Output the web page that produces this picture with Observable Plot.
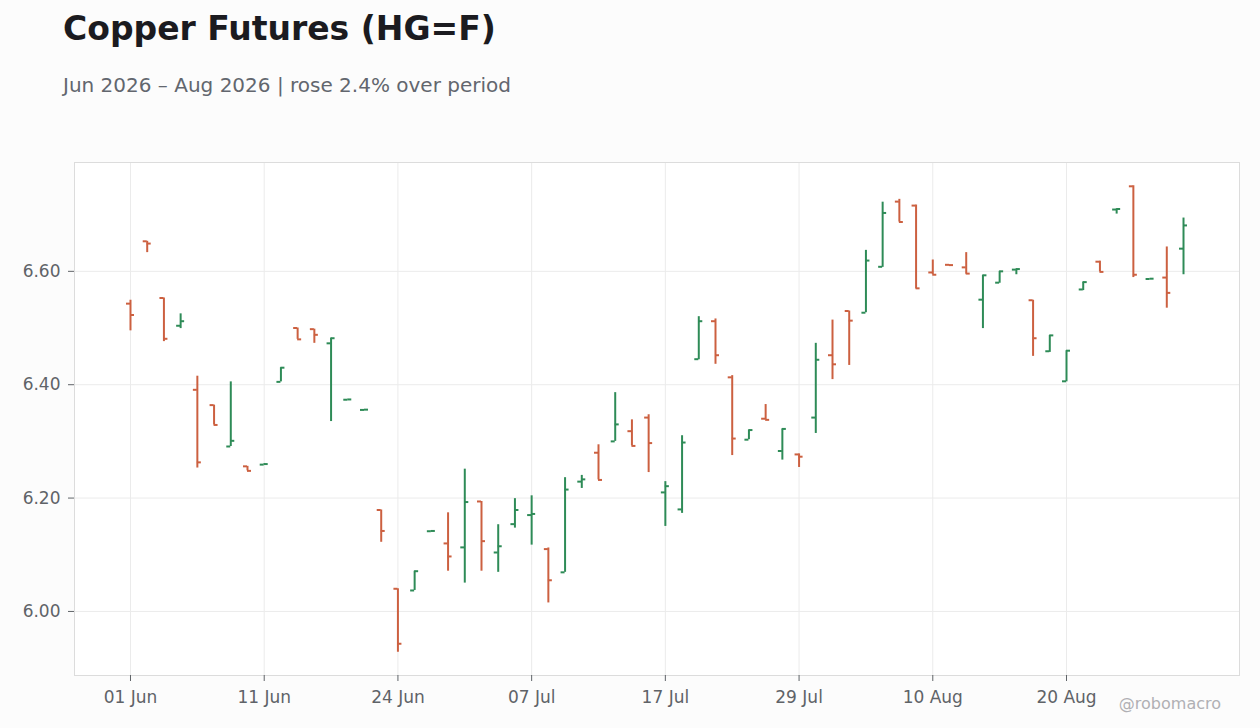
<!DOCTYPE html>
<html>
<head>
<meta charset="utf-8">
<script src="https://cdn.jsdelivr.net/npm/d3@7"></script>
<script src="https://cdn.jsdelivr.net/npm/@observablehq/plot@0.6"></script>
<style>
  html, body { margin: 0; padding: 0; background: #fcfcfc; width: 1260px; height: 728px; overflow: hidden; font-family: "DejaVu Sans", sans-serif; }
  #title { position: absolute; left: 63px; top: 9px; font-size: 33px; font-weight: bold; color: #1b1b20; line-height: normal; white-space: nowrap; }
  #subtitle { position: absolute; left: 63px; top: 73px; font-size: 20px; color: #62666e; line-height: normal; white-space: nowrap; }
  #chart { position: absolute; left: 0; top: 120px; }
  #caption { position: absolute; right: 39px; top: 694px; font-size: 16px; color: #b0b0b4; line-height: normal; }
</style>
</head>
<body>
<div id="title">Copper Futures (HG=F)</div>
<div id="subtitle">Jun 2026 – Aug 2026 | rose 2.4% over period</div>
<div id="chart"></div>
<div id="caption">@robomacro</div>
<script>
const dates = [
  "2026-06-01","2026-06-02","2026-06-03","2026-06-04","2026-06-05",
  "2026-06-08","2026-06-09","2026-06-10","2026-06-11","2026-06-12",
  "2026-06-15","2026-06-16","2026-06-17","2026-06-18",
  "2026-06-22","2026-06-23","2026-06-24","2026-06-25","2026-06-26",
  "2026-06-29","2026-06-30","2026-07-01","2026-07-02",
  "2026-07-06","2026-07-07","2026-07-08","2026-07-09","2026-07-10",
  "2026-07-13","2026-07-14","2026-07-15","2026-07-16","2026-07-17",
  "2026-07-20","2026-07-21","2026-07-22","2026-07-23","2026-07-24",
  "2026-07-27","2026-07-28","2026-07-29","2026-07-30","2026-07-31",
  "2026-08-03","2026-08-04","2026-08-05","2026-08-06","2026-08-07",
  "2026-08-10","2026-08-11","2026-08-12","2026-08-13","2026-08-14",
  "2026-08-17","2026-08-18","2026-08-19","2026-08-20","2026-08-21",
  "2026-08-24","2026-08-25","2026-08-26","2026-08-27","2026-08-28",
  "2026-08-31"
];
const open = [
  6.543,6.653,6.553,6.504,6.391,6.364,6.291,6.256,6.259,6.405,
  6.500,6.498,6.473,6.3735,6.3555,6.179,6.040,6.037,6.1415,6.120,
  6.113,6.194,6.104,6.154,6.170,6.110,6.069,6.229,6.280,6.300,
  6.318,6.342,6.210,6.180,6.445,6.512,6.413,6.303,6.340,6.283,
  6.277,6.342,6.452,6.530,6.527,6.608,6.723,6.716,6.598,6.6115,
  6.607,6.550,6.580,6.603,6.549,6.459,6.406,6.568,6.617,6.709,
  6.750,6.5865,6.589,6.640
];
const high = [
  6.549,6.653,6.553,6.525,6.415,6.364,6.405,6.256,6.260,6.430,
  6.500,6.498,6.482,6.374,6.356,6.179,6.040,6.071,6.142,6.174,
  6.251,6.194,6.153,6.199,6.204,6.112,6.236,6.240,6.294,6.386,
  6.338,6.347,6.229,6.310,6.520,6.516,6.416,6.320,6.365,6.322,
  6.278,6.473,6.514,6.530,6.637,6.722,6.727,6.717,6.620,6.6115,
  6.633,6.593,6.600,6.604,6.549,6.487,6.460,6.581,6.618,6.710,
  6.751,6.587,6.643,6.694
];
const low = [
  6.495,6.633,6.476,6.499,6.253,6.329,6.291,6.248,6.259,6.405,
  6.480,6.473,6.335,6.3735,6.3555,6.122,5.928,6.037,6.1415,6.071,
  6.050,6.071,6.069,6.147,6.117,6.015,6.069,6.217,6.232,6.300,
  6.292,6.245,6.150,6.173,6.444,6.436,6.275,6.303,6.338,6.267,
  6.254,6.314,6.409,6.434,6.527,6.607,6.687,6.569,6.594,6.611,
  6.595,6.499,6.579,6.594,6.450,6.457,6.405,6.566,6.599,6.701,
  6.589,6.5865,6.535,6.594
];
const close = [
  6.523,6.649,6.481,6.512,6.263,6.329,6.301,6.248,6.260,6.430,
  6.480,6.488,6.482,6.374,6.356,6.142,5.943,6.071,6.142,6.097,
  6.193,6.124,6.115,6.179,6.172,6.055,6.215,6.233,6.232,6.330,
  6.292,6.297,6.221,6.298,6.512,6.452,6.305,6.320,6.338,6.322,
  6.273,6.444,6.436,6.513,6.619,6.703,6.687,6.570,6.594,6.611,
  6.596,6.593,6.600,6.604,6.482,6.487,6.460,6.581,6.599,6.710,
  6.594,6.587,6.562,6.681
];
const tickDates = ["2026-06-01","2026-06-11","2026-06-24","2026-07-07","2026-07-17","2026-07-29","2026-08-10","2026-08-20"];
const tickLabels = ["01 Jun","11 Jun","24 Jun","07 Jul","17 Jul","29 Jul","10 Aug","20 Aug"];
const yTicks = [6.0, 6.2, 6.4, 6.6];

const UP = "#2e8b57", DOWN = "#cc6040";
const bars = dates.map((d, i) => ({
  i, date: d, open: open[i], high: high[i], low: low[i], close: close[i],
  color: close[i] >= open[i] ? UP : DOWN
}));
const tickIdx = tickDates.map(d => dates.indexOf(d));
const labelOf = new Map(tickIdx.map((k, j) => [k, tickLabels[j]]));

const chart = Plot.plot({
  width: 1260,
  height: 608,
  marginTop: 42,
  marginBottom: 53,
  marginLeft: 74,
  marginRight: 21,
  style: { fontFamily: "DejaVu Sans", fontSize: "17px", background: "transparent", color: "#5f6368", overflow: "visible" },
  x: { type: "linear", domain: [-3.35, 66.35] },
  y: { domain: [5.887, 6.792] },
  marks: [
    Plot.frame({ fill: "white", stroke: null }),
    Plot.gridX(tickIdx, { stroke: "#ebebeb", strokeOpacity: 1 }),
    Plot.gridY(yTicks, { stroke: "#ebebeb", strokeOpacity: 1 }),
    Plot.frame({ stroke: "#dcdcdc" }),
    Plot.axisX({ ticks: tickIdx, tickFormat: k => labelOf.get(k), tickSize: 6, tickPadding: 9, fontSize: 17, label: null, stroke: "#5f6368" }),
    Plot.axisY({ ticks: yTicks, tickFormat: d3.format(".2f"), tickSize: 6, tickPadding: 8, fontSize: 17, label: null }),
    Plot.ruleX(bars, { x: "i", y1: "low", y2: "high", stroke: "color", strokeWidth: 2 }),
    Plot.ruleY(bars, { y: "open", x1: "i", x2: "i", insetLeft: -4, insetRight: 0, stroke: "color", strokeWidth: 2 }),
    Plot.ruleY(bars, { y: "close", x1: "i", x2: "i", insetLeft: 0, insetRight: -4, stroke: "color", strokeWidth: 2 })
  ]
});
document.getElementById("chart").appendChild(chart);
</script>
</body>
</html>
